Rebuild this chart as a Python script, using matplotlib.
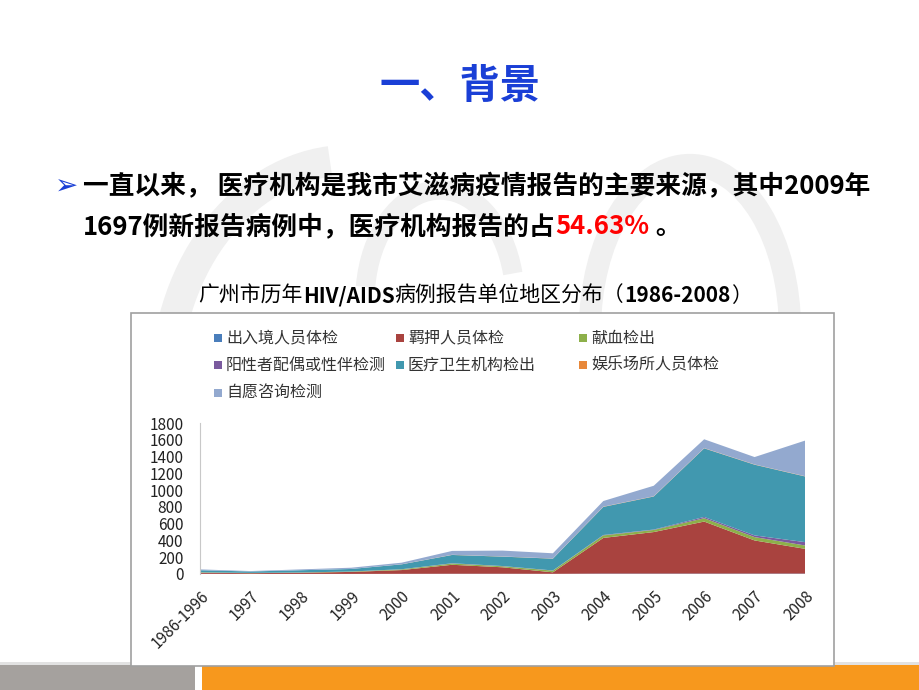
import numpy as np
import matplotlib.pyplot as plt
from matplotlib.patches import Rectangle, Arc, Ellipse

plt.rcParams['font.family'] = ['Noto Sans CJK SC', 'DejaVu Sans']

years = ['1986-1996', '1997', '1998', '1999', '2000', '2001', '2002',
         '2003', '2004', '2005', '2006', '2007', '2008']
labels = ['出入境人员体检', '羁押人员体检', '献血检出', '阳性者配偶或性伴检测',
          '医疗卫生机构检出', '娱乐场所人员体检', '自愿咨询检测']

churujing = [2, 1, 1, 1, 2, 3, 3, 2, 5, 5, 5, 5, 5]
jiya = [13, 9, 14, 24, 45, 107, 77, 18, 425, 495, 620, 395, 295]
xianxue = [5, 3, 3, 5, 8, 15, 12, 20, 30, 25, 40, 40, 40]
peiou = [0, 0, 0, 0, 2, 3, 3, 2, 5, 5, 15, 20, 40]
yiliao = [25, 17, 27, 30, 58, 99, 112, 141, 335, 394, 818, 843, 783]
yule = [0, 0, 0, 0, 1, 2, 2, 2, 3, 3, 3, 3, 3]
ziyuan = [10, 5, 10, 15, 19, 46, 70, 62, 67, 125, 105, 88, 424]

colors = ['#4A7EBB', '#A9433F', '#8DB04A', '#7A5A9E', '#4198AF', '#E8883A', '#93A9CF']

W, H = 920, 690
fig = plt.figure(figsize=(9.2, 6.9), dpi=100)
fig.patch.set_facecolor('white')

# faint watermark strokes behind the text
bg = fig.add_axes([0, 0, 1, 1], zorder=-5)
bg.set_xlim(0, W)
bg.set_ylim(0, H)
bg.axis('off')
wm = '#F0F0F0'
bg.add_patch(Arc((350, 300), 370, 460, theta1=95, theta2=185, color=wm, lw=22))
bg.add_patch(Arc((440, 390), 150, 220, theta1=20, theta2=170, color=wm, lw=14))
bg.add_patch(Ellipse((690, 360), 200, 330, facecolor='none', edgecolor=wm, lw=16))

# footer bars
fig.patches.append(Rectangle((0, 0), 195 / W, 25 / H, transform=fig.transFigure,
                             facecolor='#A5A19E', edgecolor='none', zorder=-2))
fig.patches.append(Rectangle((202 / W, 0), 718 / W, 25 / H, transform=fig.transFigure,
                             facecolor='#F7981D', edgecolor='none', zorder=-2))
fig.patches.append(Rectangle((0, 25 / H), 1, 3 / H, transform=fig.transFigure,
                             facecolor='#E2E2E2', edgecolor='none', zorder=-3))

# chart frame
fig.patches.append(Rectangle((131 / W, 24 / H), 703 / W, 353 / H, transform=fig.transFigure,
                             facecolor='white', edgecolor='#A0A0A0', linewidth=1.2, zorder=-1))

renderer = fig.canvas.get_renderer()


def put_parts(x0, y, parts, size, center=False):
    # parts: (text, color, weight)
    texts = []
    x = x0
    for s, c, w in parts:
        t = fig.text(x / W, 1 - y / H, s, ha='left', va='center', fontsize=size,
                     fontweight=w, color=c)
        x = t.get_window_extent(renderer).x1
        texts.append(t)
    if center:
        shift = (x - x0) / 2
        for t in texts:
            px, py = t.get_position()
            t.set_position((px - shift / W, py))


fig.text(0.5, 1 - 86 / H, '一、背景', ha='center', va='center', fontsize=29,
         fontweight='bold', color='#1A3FD6')

fig.text(55 / W, 1 - 187 / H, '➢', ha='left', va='center', fontsize=20,
         color='#1A3FD6', family=['DejaVu Sans'])
put_parts(83, 187, [('一直以来， 医疗机构是我市艾滋病疫情报告的主要来源，其中2009年', 'black', 'bold')], 18.5)
put_parts(83, 227, [('1697例新报告病例中，医疗机构报告的占', 'black', 'bold'),
                    ('54.63%', '#FF0000', 'bold'), (' 。', 'black', 'bold')], 18.5)

put_parts(475, 296, [('广州市历年', 'black', 'normal'), ('HIV/AIDS', 'black', 'bold'),
                     ('病例报告单位地区分布（', 'black', 'normal'), ('1986-2008', 'black', 'bold'),
                     ('）', 'black', 'normal')], 15, center=True)

# legend (three columns)
leg_x = [218, 400, 583]
leg_y = [338, 365, 393]
for i, (lab, col) in enumerate(zip(labels, colors)):
    lx = leg_x[i % 3]
    ly = leg_y[i // 3]
    fig.patches.append(Rectangle(((lx - 4) / W, 1 - (ly + 4) / H), 8 / W, 8 / H,
                                 transform=fig.transFigure, facecolor=col, edgecolor='none'))
    fig.text((lx + 8) / W, 1 - ly / H, lab, ha='left', va='center', fontsize=11.5,
             color='#333333')

ax = fig.add_axes([200 / W, 1 - 574 / H, 605 / W, 151 / H])
x = np.arange(len(years))
ax.stackplot(x, churujing, jiya, xianxue, peiou, yiliao, yule, ziyuan,
             colors=colors, linewidth=0)
ax.set_xlim(0, len(years) - 1)
ax.set_ylim(0, 1800)
ax.set_yticks(range(0, 1801, 200))
ax.set_xticks(x)
ax.set_xticklabels(years, rotation=45, ha='right', rotation_mode='anchor')
ax.tick_params(axis='both', length=0, labelsize=11, colors='#222222')
ax.tick_params(axis='x', pad=10)
ax.tick_params(axis='y', pad=12)
for side in ['top', 'right', 'bottom']:
    ax.spines[side].set_visible(False)
ax.spines['left'].set_color('#C8C8C8')
ax.patch.set_alpha(0)

fig.savefig('out.png', dpi=100)
